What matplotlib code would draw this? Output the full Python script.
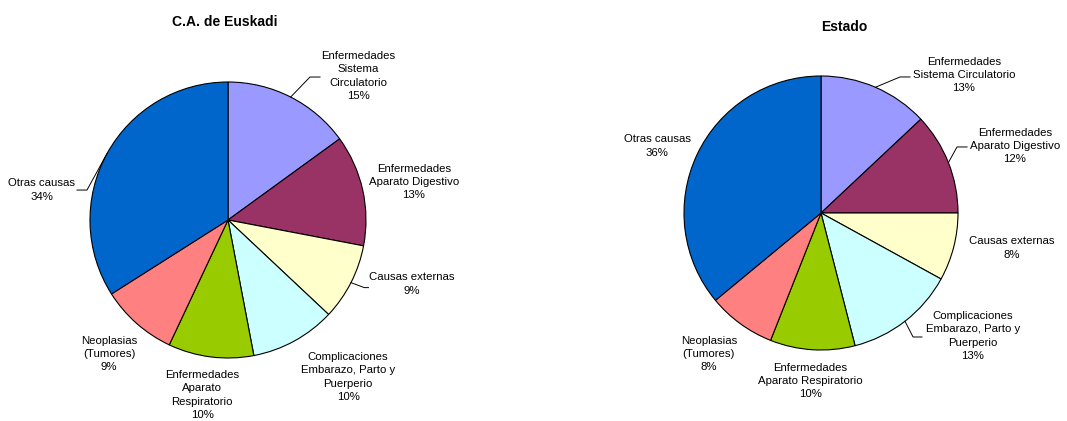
import numpy as np
import matplotlib
matplotlib.use('Agg')
import matplotlib.pyplot as plt

plt.rcParams['font.family'] = ['Liberation Sans', 'DejaVu Sans']

# causes of death, clockwise from 12 o'clock
labels_euskadi = ['Enfermedades\nSistema\nCirculatorio', 'Enfermedades\nAparato Digestivo',
                  'Causas externas', 'Complicaciones\nEmbarazo, Parto y\nPuerperio',
                  'Enfermedades\nAparato\nRespiratorio', 'Neoplasias\n(Tumores)', 'Otras causas']
labels_estado = ['Enfermedades\nSistema Circulatorio', 'Enfermedades\nAparato Digestivo',
                 'Causas externas', 'Complicaciones\nEmbarazo, Parto y\nPuerperio',
                 'Enfermedades\nAparato Respiratorio', 'Neoplasias\n(Tumores)', 'Otras causas']
pct_euskadi = [15, 13, 9, 10, 10, 9, 34]
pct_estado = [13, 12, 8, 13, 10, 8, 36]

colors = ['#9999FF', '#993366', '#FFFFCC', '#CCFFFF', '#99CC00', '#FF8080', '#0066CC']

W, H = 1067, 421


def pie_axes(fig, x0, x1, cx, cy, r):
    # axes spanning pixel columns x0..x1, full height, with pie of radius 1 at (cx, cy) px
    ax = fig.add_axes([x0 / W, 0, (x1 - x0) / W, 1])
    lims = ((x0 - cx) / r, (x1 - cx) / r), ((cy - H) / r, cy / r)
    return ax, lims


def draw(ax, lims, pct, labels, title, title_xy, label_pos, leaders):
    ax.pie(pct, colors=colors, startangle=90, counterclock=False, radius=1,
           wedgeprops=dict(edgecolor='black', linewidth=0.8), frame=False)
    ax.set_aspect('auto')
    ax.set_xlim(*lims[0])
    ax.set_ylim(*lims[1])
    ax.axis('off')
    ax.text(title_xy[0], title_xy[1], title, ha='center', va='center',
            fontsize=10, fontweight='bold')
    cum = np.cumsum([0] + pct)
    for i, (lab, p) in enumerate(zip(labels, pct)):
        x, y = label_pos[i]
        ax.text(x, y, lab + '\n' + str(p) + '%', ha='center', va='center',
                fontsize=8.2, linespacing=1.4)
        if i in leaders:
            kx, ky, ex = leaders[i]
            mid = np.deg2rad((cum[i] + p / 2.0) / 100.0 * 360)
            sx, sy = np.sin(mid), np.cos(mid)
            ax.plot([sx, kx, ex], [sy, ky, ky], color='black', lw=0.7)


fig = plt.figure(figsize=(W / 100, H / 100), dpi=100)

ax1, lims1 = pie_axes(fig, 0, 540, 228, 220, 138)
pos1 = [(0.942, 1.043), (1.348, 0.275), (1.333, -0.464), (0.870, -1.138),
        (-0.188, -1.268), (-0.862, -0.971), (-1.348, 0.217)]
lead1 = {0: (0.594, 1.036, 0.667), 2: (0.988, -0.49, 1.018), 6: (-1.022, 0.217, -1.094)}
draw(ax1, lims1, pct_euskadi, labels_euskadi, 'C.A. de Euskadi', (-0.022, 1.435), pos1, lead1)

ax2, lims2 = pie_axes(fig, 540, 1067, 821, 213, 137)
pos2 = [(1.044, 1.007), (1.416, 0.489), (1.394, -0.255), (1.109, -0.898),
        (-0.080, -1.226), (-0.818, -1.029), (-1.197, 0.489)]
lead2 = {0: (0.577, 0.993, 0.650), 1: (0.993, 0.482, 1.066), 3: (0.672, -0.905, 0.737)}
draw(ax2, lims2, pct_estado, labels_estado, 'Estado', (0.168, 1.358), pos2, lead2)

fig.savefig('out.png', dpi=100, facecolor='white')
